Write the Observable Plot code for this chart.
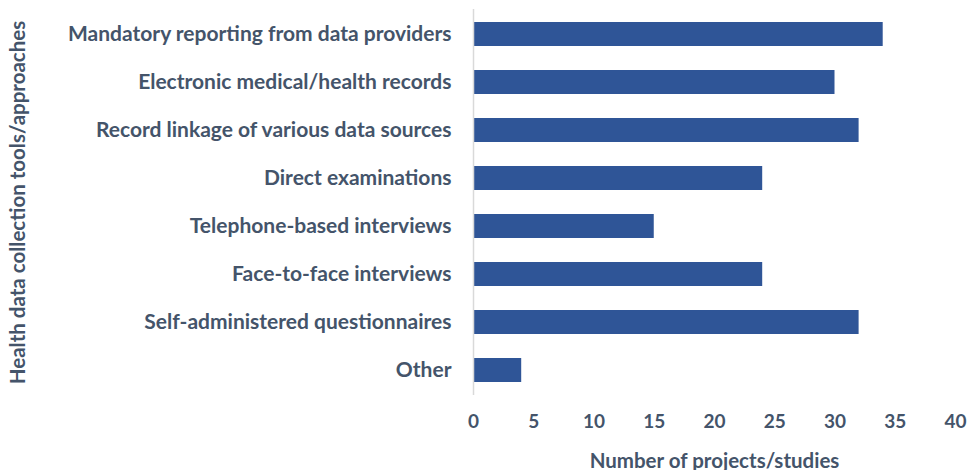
<!DOCTYPE html>
<html><head><meta charset="utf-8">
<script src="https://cdn.jsdelivr.net/npm/d3@7"></script>
<script src="https://cdn.jsdelivr.net/npm/@observablehq/plot@0.6"></script>
<style>body{margin:0;background:#fff}</style>
</head><body><div id="chart"></div>
<script>
const categories = [
  "Mandatory reporting from data providers",
  "Electronic medical/health records",
  "Record linkage of various data sources",
  "Direct examinations",
  "Telephone-based interviews",
  "Face-to-face interviews",
  "Self-administered questionnaires",
  "Other"
];
const values = [34, 30, 32, 24, 15, 24, 32, 4];
const xTicks = [0, 5, 10, 15, 20, 25, 30, 35, 40];
const xLabel = "Number of projects/studies";
const yLabel = "Health data collection tools/approaches";

const data = categories.map((c, i) => ({category: c, value: values[i]}));

const plot = Plot.plot({
  width: 972,
  height: 470,
  marginLeft: 473,
  marginRight: 17,
  marginTop: 9,
  marginBottom: 75,
  style: {fontFamily: "Lato, Calibri, sans-serif", fontWeight: "bold", fontSize: "20px", color: "#44546A", background: "#fff"},
  x: {domain: [0, 40]},
  y: {domain: categories, paddingInner: 0.5, paddingOuter: 0.25},
  marks: [
    Plot.barX(data, {x: "value", y: "category", fill: "#2F5597"}),
    Plot.ruleX([0], {stroke: "#D9D9D9", strokeWidth: 1.5}),
    Plot.axisX({ticks: xTicks, tickSize: 0, tickPadding: 19, fontSize: 19, label: null}),
    Plot.axisX({ticks: [], tickSize: 0, label: xLabel, fontSize: 20.5, labelAnchor: "center", labelArrow: "none", labelOffset: 72}),
    Plot.axisY({tickSize: 0, tickPadding: 22, fontSize: 21, label: null}),
    Plot.axisY({ticks: [], tickSize: 0, label: yLabel, fontSize: 20.5, labelAnchor: "center", labelArrow: "none", labelOffset: 463})
  ]
});
document.getElementById("chart").appendChild(plot);
</script>
</body></html>
